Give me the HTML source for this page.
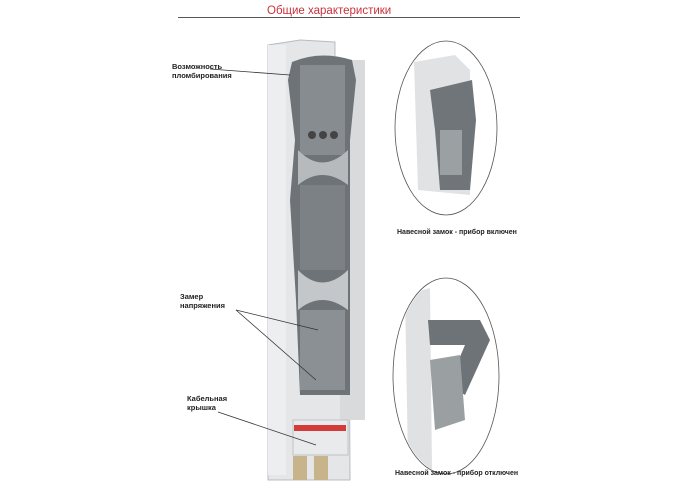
<!DOCTYPE html>
<html><head><meta charset="utf-8"><style>
html,body{margin:0;padding:0;background:#fff;width:700px;height:500px;overflow:hidden}
svg text{font-family:"Liberation Sans",sans-serif}
</style></head><body>
<svg width="700" height="500" viewBox="0 0 700 500" xmlns="http://www.w3.org/2000/svg">
<defs>
<clipPath id="c1"><ellipse cx="446" cy="128" rx="50" ry="86"/></clipPath>
<clipPath id="c2"><ellipse cx="446" cy="376" rx="52" ry="97"/></clipPath>
</defs>
<text x="267" y="14" font-size="11.5" fill="#c8323c">Общие характеристики</text>
<line x1="178" y1="17.5" x2="520" y2="17.5" stroke="#555" stroke-width="1"/>
<path d="M268 45 L300 40 L335 42 L335 60 L348 60 L350 480 L268 480 Z" fill="#e4e6e8" stroke="#b8bcc0"/>
<rect x="268" y="45" width="18" height="430" fill="#eceeef"/>
<rect x="340" y="60" width="25" height="360" fill="#d8dadc"/>
<path d="M292 62 Q320 50 352 60 L356 80 L350 140 L350 395 L300 395 L296 300 L290 200 L295 140 L288 80 Z" fill="#6d7377"/>
<rect x="300" y="65" width="45" height="90" fill="#868c90"/>
<rect x="300" y="185" width="45" height="85" fill="#7b8185"/>
<rect x="300" y="310" width="45" height="80" fill="#8a9094"/>
<path d="M298 150 Q322 175 348 150 L348 185 Q322 165 298 185 Z" fill="#b6babd"/>
<path d="M298 270 Q322 295 348 270 L348 310 Q322 290 298 310 Z" fill="#c4c7ca"/>
<circle cx="312" cy="135" r="4" fill="#444"/><circle cx="323" cy="135" r="4" fill="#444"/><circle cx="334" cy="135" r="4" fill="#444"/>
<rect x="293" y="420" width="55" height="35" fill="#e8eaeb" stroke="#c0c3c6"/>
<rect x="294" y="425" width="52" height="6" fill="#d33a3a"/>
<rect x="293" y="456" width="14" height="24" fill="#c8b48a"/><rect x="314" y="456" width="14" height="24" fill="#c8b48a"/>
<text x="172" y="69" font-size="7.5" font-weight="bold" fill="#222">Возможность</text>
<text x="172" y="78" font-size="7.5" font-weight="bold" fill="#222">пломбирования</text>
<line x1="210" y1="69" x2="290" y2="75" stroke="#333" stroke-width="0.8"/>
<text x="180" y="299" font-size="7.5" font-weight="bold" fill="#222">Замер</text>
<text x="180" y="308" font-size="7.5" font-weight="bold" fill="#222">напряжения</text>
<line x1="236" y1="310" x2="318" y2="330" stroke="#333" stroke-width="0.8"/>
<line x1="236" y1="310" x2="316" y2="380" stroke="#333" stroke-width="0.8"/>
<text x="187" y="401" font-size="7.5" font-weight="bold" fill="#222">Кабельная</text>
<text x="187" y="410" font-size="7.5" font-weight="bold" fill="#222">крышка</text>
<line x1="218" y1="412" x2="316" y2="445" stroke="#333" stroke-width="0.8"/>
<ellipse cx="446" cy="128" rx="51" ry="87" fill="#fff" stroke="#555" stroke-width="0.8"/>
<g clip-path="url(#c1)">
<path d="M414 62 L455 55 L470 70 L470 195 L418 190 Z" fill="#e0e2e4"/>
<path d="M430 90 L472 80 L476 120 L470 190 L440 190 L435 130 Z" fill="#6f7579"/>
<rect x="440" y="130" width="22" height="45" fill="#9ba0a3"/>
</g>
<text x="397" y="234" font-size="7" font-weight="bold" fill="#222">Навесной замок - прибор включен</text>
<ellipse cx="446" cy="376" rx="53" ry="98" fill="#fff" stroke="#555" stroke-width="0.8"/>
<g clip-path="url(#c2)">
<path d="M405 295 L430 288 L432 470 L408 460 Z" fill="#dfe1e3"/>
<path d="M428 320 L480 320 L490 340 L465 395 L448 385 L465 345 L430 345 Z" fill="#6d7377"/>
<path d="M430 360 L460 355 L465 420 L435 430 Z" fill="#9a9fa2"/>
</g>
<text x="395" y="475" font-size="7" font-weight="bold" fill="#222">Навесной замок - прибор отключен</text>
</svg>
</body></html>
